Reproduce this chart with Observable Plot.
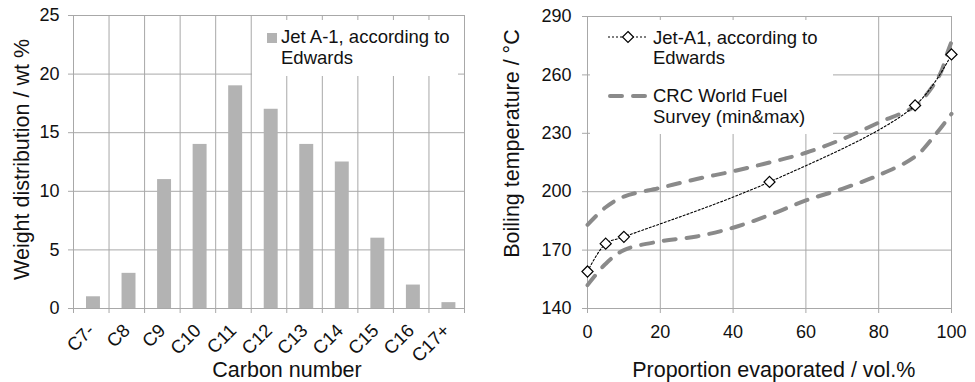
<!DOCTYPE html>
<html>
<head>
<meta charset="utf-8">
<script src="https://cdn.jsdelivr.net/npm/d3@7"></script>
<script src="https://cdn.jsdelivr.net/npm/@observablehq/plot@0.6"></script>
<style>
  html, body { margin: 0; padding: 0; background: #fff; }
  #wrap { position: relative; width: 975px; height: 382px; display: flex; font-family: "Liberation Sans", Arial, sans-serif; color: #111; }
  #left { width: 480px; height: 382px; }
  #right { width: 495px; height: 382px; }
  .legend { position: absolute; background: #fff; }
  .lt { position: absolute; font-size: 18.5px; line-height: 20.5px; white-space: nowrap; }
  .sw { position: absolute; }
</style>
</head>
<body>
<div id="wrap">
  <div id="left"></div>
  <div id="right"></div>
</div>
<script>
// ---- Data: left chart (carbon number distribution) ----
const categories = ["C7-", "C8", "C9", "C10", "C11", "C12", "C13", "C14", "C15", "C16", "C17+"];
const weights = [1, 3, 11, 14, 19, 17, 14, 12.5, 6, 2, 0.5];
const weightTicks = [0, 5, 10, 15, 20, 25];

// ---- Data: right chart (distillation curves) ----
const jetPct = [0, 5, 10, 50, 90, 100];
const jetTemp = [159, 173.3, 176.8, 205, 244.3, 270.5];
const crcMaxPct = [0, 5, 10, 20, 30, 40, 50, 60, 70, 80, 90, 94, 97, 99, 100];
const crcMaxTemp = [183, 192, 197.5, 202, 206.5, 210.5, 215, 220, 227, 235.5, 244, 252, 261, 272, 277];
const crcMinPct = [0, 5, 10, 20, 30, 40, 50, 60, 70, 80, 90, 95, 100];
const crcMinTemp = [152, 163, 170, 174.5, 177, 181.5, 188, 195.5, 201.5, 208.5, 218, 228, 240];
const pctTicks = [0, 20, 40, 60, 80, 100];
const tempTicks = [140, 170, 200, 230, 260, 290];

const gridColor = "#a8a8a8";
const barColor = "#b3b3b3";
const dashColor = "#8a8a8a";
const font = "Liberation Sans, Arial, sans-serif";

const barData = categories.map((c, i) => ({c, i, w: weights[i]}));
const jet = jetPct.map((x, k) => ({x, y: jetTemp[k]}));
const crcMax = crcMaxPct.map((x, k) => ({x, y: crcMaxTemp[k]}));
const crcMin = crcMinPct.map((x, k) => ({x, y: crcMinTemp[k]}));

const left = Plot.plot({
  width: 480, height: 382,
  marginLeft: 73, marginRight: 16, marginTop: 15, marginBottom: 74,
  style: {fontFamily: font, fontSize: "18px", color: "#111", background: "transparent", overflow: "visible"},
  x: {domain: [0, categories.length]},
  y: {domain: [0, 25]},
  marks: [
    Plot.gridY({ticks: weightTicks, stroke: gridColor, strokeOpacity: 1}),
    Plot.gridX({ticks: d3.range(categories.length + 1), stroke: gridColor, strokeOpacity: 1}),
    Plot.rectY(barData, {x1: "i", x2: d => d.i + 1, y: "w", fill: barColor, insetLeft: 13, insetRight: 8.6}),
    Plot.axisY({ticks: weightTicks, tickSize: 5, tickPadding: 9, label: null, stroke: gridColor, fill: "#111"}),
    Plot.axisX({ticks: d3.range(categories.length + 1), tickSize: 5, tickFormat: () => "", label: null, stroke: gridColor}),
    Plot.axisX({ticks: d3.range(categories.length).map(i => i + 0.5), tickFormat: v => categories[Math.floor(v)],
      tickSize: 0, tickPadding: 19, tickRotate: -45, label: null, fill: "#111", fontSize: 18.5}),
    Plot.text(["Weight distribution / wt %"], {frameAnchor: "left", textAnchor: "middle", lineAnchor: "middle", rotate: -90, dx: -51.3, dy: -2.5, fontSize: 21.5, fill: "#111"}),
    Plot.text(["Carbon number"], {frameAnchor: "bottom", textAnchor: "middle", dx: 18, dy: 62, lineAnchor: "middle", fontSize: 21.5, fill: "#111"})
  ]
});
document.getElementById("left").append(left);

const right = Plot.plot({
  width: 495, height: 382,
  marginLeft: 107, marginRight: 24, marginTop: 16, marginBottom: 74,
  style: {fontFamily: font, fontSize: "18px", color: "#111", background: "transparent", overflow: "visible"},
  x: {domain: [0, 100]},
  y: {domain: [140, 290]},
  marks: [
    Plot.gridY({ticks: tempTicks, stroke: gridColor, strokeOpacity: 1}),
    Plot.gridX({ticks: pctTicks, stroke: gridColor, strokeOpacity: 1}),
    Plot.line(crcMin, {x: "x", y: "y", stroke: dashColor, strokeWidth: 4, strokeDasharray: "12,11", strokeLinecap: "round", curve: "catmull-rom"}),
    Plot.line(crcMax, {x: "x", y: "y", stroke: dashColor, strokeWidth: 4, strokeDasharray: "12,11", strokeLinecap: "round", curve: "catmull-rom"}),
    Plot.line(jet, {x: "x", y: "y", stroke: "#000", strokeWidth: 1.1, strokeDasharray: "2,2", curve: "catmull-rom"}),
    Plot.dot(jet, {x: "x", y: "y", symbol: "diamond2", r: 5, fill: "#fff", stroke: "#000", strokeWidth: 1.2}),
    Plot.axisY({ticks: tempTicks, tickSize: 5, tickPadding: 11, label: null, stroke: gridColor, fill: "#111"}),
    Plot.axisX({ticks: pctTicks, tickSize: 5, tickPadding: 12, label: null, stroke: gridColor, fill: "#111"}),
    Plot.text(["Boiling temperature / °C"], {frameAnchor: "left", textAnchor: "middle", lineAnchor: "middle", rotate: -90, dx: -75.3, dy: -19, fontSize: 21.5, fill: "#111"}),
    Plot.text(["Proportion evaporated / vol.%"], {frameAnchor: "bottom", textAnchor: "middle", dx: 4.3, dy: 61.5, lineAnchor: "middle", fontSize: 21.5, fill: "#111"})
  ]
});
document.getElementById("right").append(right);

// ---- Legends (overlaid inside the plot areas, as in the original) ----
const wrap = document.getElementById("wrap");
function el(html) { const t = document.createElement("template"); t.innerHTML = html.trim(); return t.content.firstChild; }

wrap.append(el(`<div class="legend" style="left:252px;top:20px;width:206px;height:56px"></div>`));
wrap.append(el(`<svg class="sw" style="left:267px;top:33px" width="10" height="10"><rect width="10" height="10" fill="${barColor}"/></svg>`));
wrap.append(el(`<div class="lt" style="left:281px;top:27px">Jet A-1, according to<br>Edwards</div>`));

wrap.append(el(`<div class="legend" style="left:590px;top:20px;width:243px;height:114px"></div>`));
wrap.append(el(`<svg class="sw" style="left:606px;top:29px" width="46" height="16">
  <line x1="2" y1="8" x2="42" y2="8" stroke="#000" stroke-width="1.1" stroke-dasharray="2,2"/>
  <path d="M22,2.5 L27.5,8 L22,13.5 L16.5,8 Z" fill="#fff" stroke="#000" stroke-width="1.2"/></svg>`));
wrap.append(el(`<div class="lt" style="left:653px;top:27.5px">Jet-A1, according to<br>Edwards</div>`));
wrap.append(el(`<svg class="sw" style="left:606px;top:88px" width="46" height="16">
  <line x1="4" y1="8" x2="41" y2="8" stroke="${dashColor}" stroke-width="4" stroke-linecap="round" stroke-dasharray="12,11"/></svg>`));
wrap.append(el(`<div class="lt" style="left:653px;top:86px">CRC World Fuel<br>Survey (min&amp;max)</div>`));
</script>
</body>
</html>
